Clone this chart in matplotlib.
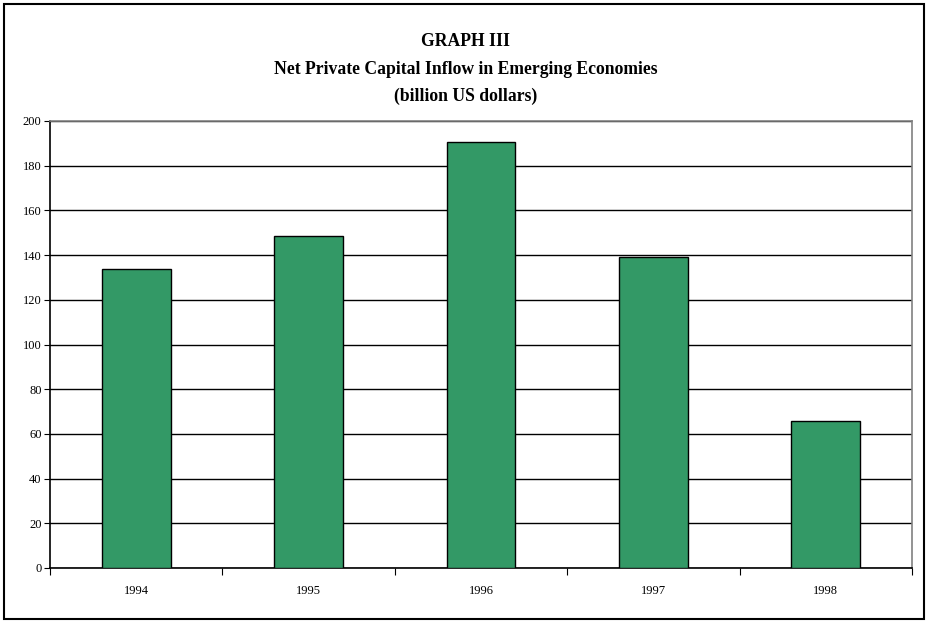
import numpy as np
import matplotlib.pyplot as plt
from matplotlib.patches import Rectangle

years = ["1994", "1995", "1996", "1997", "1998"]
inflow = [133.8, 148.4, 190.6, 139.1, 65.8]
yticks = [0, 20, 40, 60, 80, 100, 120, 140, 160, 180, 200]

plt.rcParams['font.family'] = ['Liberation Serif', 'DejaVu Serif']

fig = plt.figure(figsize=(9.28, 6.22), dpi=100)
ax = fig.add_axes([50/928, 1 - 568/622, 862/928, 447/622])

x = np.arange(len(years))
ax.set_axisbelow(True)
ax.yaxis.grid(True, color='black', linewidth=1)
ax.bar(x, inflow, width=0.4, color='#339966', edgecolor='black', linewidth=1, zorder=3)

ax.set_xlim(-0.5, len(years) - 0.5)
ax.set_ylim(0, 200)
ax.set_yticks(yticks)
ax.set_yticklabels([str(v) for v in yticks], fontsize=9)

# category labels in the middle, ticks at the boundaries
ax.set_xticks(np.arange(-0.5, len(years)), minor=False)
ax.set_xticklabels([])
ax.set_xticks(x, minor=True)
ax.set_xticklabels(years, minor=True, fontsize=9)
ax.tick_params(axis='x', which='major', direction='out', length=5, color='black')
ax.tick_params(axis='x', which='minor', length=0, pad=12)
ax.tick_params(axis='y', direction='out', length=4, color='black', pad=2)

ax.spines['left'].set_color('black')
ax.spines['bottom'].set_color('black')
ax.spines['top'].set_color('#808080')
ax.spines['right'].set_color('#808080')
for s in ax.spines.values():
    s.set_linewidth(1.2)

fig.text(0.502, 1 - 46/622, "GRAPH III", ha='center', va='baseline',
         fontsize=12.7, fontweight='bold')
fig.text(0.502, 1 - 74/622, "Net Private Capital Inflow in Emerging Economies",
         ha='center', va='baseline', fontsize=12.7, fontweight='bold')
fig.text(0.502, 1 - 101/622, "(billion US dollars)", ha='center', va='baseline',
         fontsize=12.7, fontweight='bold')

# outer frame
fig.patches.append(Rectangle((4/928, 3/622), 920/928, 615/622, transform=fig.transFigure,
                             fill=False, edgecolor='black', linewidth=1.5))

fig.savefig("out.png", dpi=100)
